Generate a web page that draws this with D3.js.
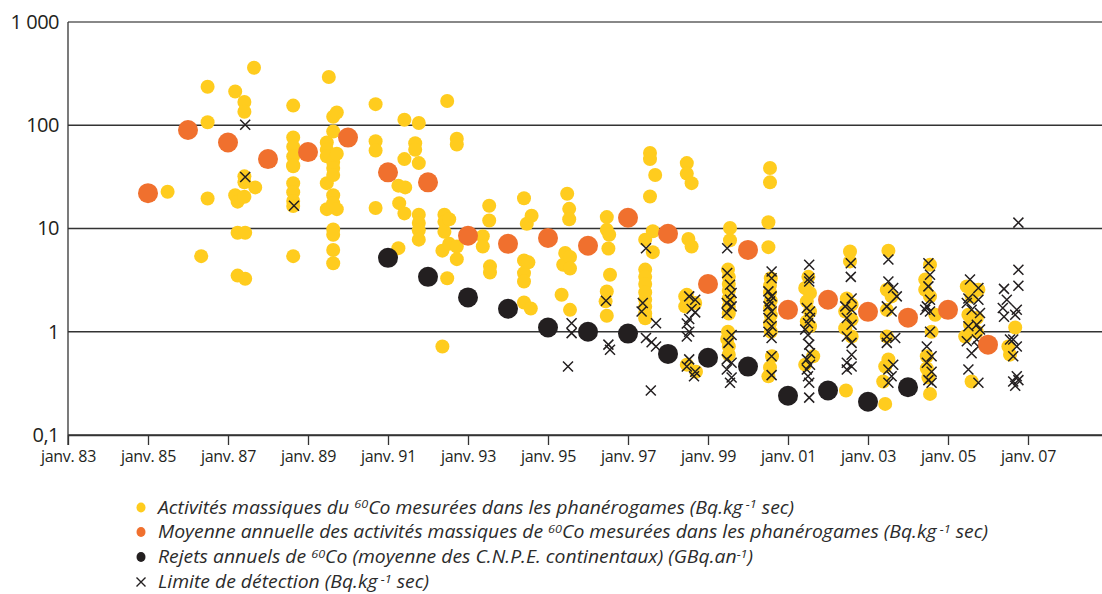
<!DOCTYPE html>
<html><head><meta charset="utf-8">
<script src="https://cdn.jsdelivr.net/npm/d3@7"></script>
<style>
html,body{margin:0;padding:0;background:#fff;}
svg{display:block;font-family:"Open Sans",sans-serif;}
</style></head>
<body>
<svg id="chart" width="1102" height="594"></svg>
<script>
// ---- data ----
const yearTicks = [1983,1985,1987,1989,1991,1993,1995,1997,1999,2001,2003,2005,2007];
const yearTickLabels = ["janv. 83","janv. 85","janv. 87","janv. 89","janv. 91","janv. 93","janv. 95","janv. 97","janv. 99","janv. 01","janv. 03","janv. 05","janv. 07"];
const valueTicks = [0.1,1,10,100,1000];
const valueTickLabels = ["0,1","1","10","100","1 000"];

const meanYears = [1985,1986,1987,1988,1989,1990,1991,1992,1993,1994,1995,1996,1997,1998,1999,2000,2001,2002,2003,2004,2005,2006];
const meanValues = [22,90,68,47,55,76,35,28,8.5,7.1,8.1,6.8,12.7,8.9,2.9,6.2,1.63,2.04,1.56,1.37,1.63,0.75];

const releaseYears = [1991,1992,1993,1994,1995,1996,1997,1998,1999,2000,2001,2002,2003,2004];
const releaseValues = [5.2,3.4,2.15,1.67,1.1,1.0,0.96,0.61,0.56,0.46,0.24,0.27,0.21,0.29];

const measuredPoints = [
[1985.49,22.7],
[1986.49,236],[1986.49,107],[1986.49,19.5],[1986.33,5.4],
[1987.18,212],[1987.18,21],[1987.24,18.2],[1987.24,9.1],[1987.24,3.5],
[1987.41,168],[1987.41,135],[1987.41,32],[1987.41,28],[1987.41,20.3],[1987.43,9.1],[1987.43,3.26],
[1987.65,361],[1987.68,25],
[1988.63,155],[1988.63,76],[1988.63,62],[1988.63,50],[1988.63,41],[1988.63,40],[1988.63,27.5],[1988.63,22.5],[1988.63,18.5],[1988.63,16.5],[1988.63,5.4],
[1989.52,293],
[1989.47,68],[1989.47,58],[1989.47,50],[1989.47,27.5],[1989.47,15.4],
[1989.63,121],[1989.63,87],[1989.63,44],[1989.63,38.5],[1989.63,33],[1989.63,21],[1989.63,17.6],[1989.63,9.8],[1989.63,8.7],[1989.63,6.2],[1989.63,4.6],
[1989.72,133],[1989.72,53],[1989.72,15.4],
[1990.69,160],[1990.69,70],[1990.69,57],[1990.69,15.8],
[1991.26,26],[1991.26,6.45],[1991.28,17.6],
[1991.41,113],[1991.41,47],[1991.41,14],[1991.43,25],
[1991.68,67],[1991.68,58],
[1991.77,105],[1991.77,43],[1991.77,13.6],[1991.77,11.3],[1991.77,9.6],[1991.77,7.8],
[1992.36,6.1],[1992.36,0.72],
[1992.41,13.6],[1992.41,11.6],[1992.41,9.3],
[1992.48,172],[1992.48,3.3],
[1992.53,12.3],[1992.53,7.1],
[1992.72,74],[1992.72,65],[1992.72,6.7],[1992.72,5.05],
[1993.37,8.4],[1993.37,6.7],
[1993.53,16.6],[1993.53,11.95],[1993.55,4.3],[1993.55,3.75],
[1994.4,19.6],[1994.4,4.9],[1994.4,3.7],[1994.4,3.07],[1994.4,1.92],[1994.47,11.1],[1994.51,4.7],[1994.57,1.68],[1994.59,13.3],
[1995.34,2.28],[1995.38,4.45],[1995.43,5.8],[1995.48,21.7],[1995.53,15.5],[1995.53,12.3],[1995.55,5.3],[1995.55,4.1],[1995.55,1.63],
[1996.44,1.97],[1996.47,12.9],[1996.47,9.7],[1996.47,2.45],[1996.47,1.43],[1996.51,6.4],[1996.53,8.7],[1996.55,3.57],
[1997.43,7.8],[1997.43,4.0],[1997.43,3.4],[1997.43,2.9],[1997.43,2.4],[1997.43,2.04],[1997.43,1.75],[1997.43,1.5],[1997.43,1.35],
[1997.55,54],[1997.55,47],[1997.55,20.4],[1997.62,9.4],[1997.62,5.9],[1997.68,33],
[1998.43,2.2],[1998.43,1.76],[1998.47,43],[1998.47,34],[1998.47,2.28],[1998.47,1.83],[1998.47,0.48],[1998.51,7.9],[1998.59,27.5],[1998.59,6.7],[1998.68,1.9],[1998.7,0.41],
[1999.55,10.1],[1999.55,7.7],[1999.5,4.0],[1999.52,3.4],[1999.52,2.9],[1999.52,2.5],[1999.52,2.1],[1999.52,1.75],[1999.52,1.5],[1999.5,1.0],[1999.48,0.85],[1999.52,0.72],[1999.52,0.6],
[2000.55,38.6],[2000.55,28],[2000.51,11.5],[2000.51,6.6],[2000.57,3.3],[2000.55,2.8],[2000.55,2.4],[2000.57,2.0],[2000.55,1.7],[2000.57,1.45],[2000.55,1.2],[2000.57,1.0],[2000.6,0.58],[2000.55,0.45],[2000.51,0.37],
[2001.51,3.4],[2001.43,2.65],[2001.55,2.37],[2001.47,1.97],[2001.55,1.57],[2001.47,1.26],[2001.55,1.13],[2001.63,0.58],[2001.43,0.48],
[2002.45,0.27],
[2002.55,6.0],[2002.55,4.8],[2002.47,2.1],[2002.59,1.83],[2002.43,1.57],[2002.59,1.31],[2002.43,1.08],[2002.59,0.9],
[2003.51,6.1],[2003.47,2.55],[2003.59,2.2],[2003.47,1.63],[2003.47,0.9],[2003.51,0.54],[2003.43,0.46],[2003.38,0.33],[2003.43,0.2],
[2004.55,4.45],[2004.43,3.2],[2004.43,2.55],[2004.55,2.2],[2004.68,1.46],[2004.59,1.0],[2004.47,0.58],[2004.47,0.44],[2004.51,0.36],[2004.55,0.25],
[2005.47,2.75],[2005.59,2.2],[2005.76,2.55],[2005.51,1.46],[2005.72,1.36],[2005.55,1.17],[2005.43,0.9],[2005.72,1.0],[2005.59,0.33],
[2006.68,1.1],[2006.51,0.72],[2006.55,0.6]
];

const detectionLimitPoints = [
[1987.43,101],[1987.43,31.6],[1988.65,16.6],
[1995.59,1.21],[1995.59,0.97],[1995.5,0.46],
[1996.45,2.0],[1996.51,0.75],[1996.55,0.67],
[1997.45,6.45],[1997.37,1.9],[1997.34,1.57],[1997.7,1.21],[1997.45,0.87],[1997.59,0.79],[1997.7,0.72],[1997.57,0.27],
[1998.53,2.2],[1998.68,2.04],[1998.59,1.66],[1998.68,1.54],[1998.53,1.33],[1998.47,1.2],[1998.53,1.0],[1998.47,0.9],[1998.53,0.54],[1998.47,0.46],[1998.68,0.41],[1998.65,0.37],
[1999.48,6.45],[1999.48,3.7],[1999.55,2.85],[1999.59,2.37],[1999.55,2.04],[1999.47,1.9],[1999.59,1.76],[1999.47,1.52],[1999.59,0.93],[1999.51,0.78],[1999.47,0.54],[1999.59,0.5],[1999.47,0.43],[1999.59,0.36],[1999.55,0.32],
[2000.59,3.83],[2000.59,3.3],[2000.51,2.46],[2000.59,2.2],[2000.55,1.97],[2000.51,1.76],[2000.59,1.57],[2000.51,1.36],[2000.59,1.13],[2000.51,1.0],[2000.59,0.87],[2000.59,0.58],[2000.59,0.38],
[2001.53,4.45],[2001.53,3.3],[2001.53,3.07],[2001.47,1.7],[2001.55,1.57],[2001.55,1.36],[2001.5,1.21],[2001.43,1.05],[2001.5,0.93],[2001.53,0.75],[2001.55,0.62],[2001.47,0.54],[2001.55,0.48],[2001.47,0.43],[2001.5,0.37],[2001.53,0.32],[2001.53,0.23],
[2002.57,4.6],[2002.57,3.4],[2002.59,2.1],[2002.43,1.76],[2002.59,1.63],[2002.47,1.36],[2002.59,1.17],[2002.47,0.9],[2002.59,0.78],[2002.59,0.6],[2002.47,0.5],[2002.59,0.46],[2002.47,0.43],
[2003.51,5.0],[2003.51,3.07],[2003.63,2.65],[2003.72,2.2],[2003.47,1.76],[2003.59,1.57],[2003.47,0.9],[2003.68,0.87],[2003.47,0.78],[2003.63,0.48],[2003.51,0.43],[2003.59,0.37],[2003.51,0.32],
[2004.51,4.6],[2004.55,3.57],[2004.51,2.75],[2004.55,2.04],[2004.47,1.76],[2004.55,1.57],[2004.43,1.63],[2004.55,1.0],[2004.47,0.72],[2004.59,0.58],[2004.47,0.5],[2004.59,0.41],[2004.51,0.34],[2004.59,0.32],
[2005.55,3.2],[2005.76,2.65],[2005.51,2.1],[2005.47,1.9],[2005.76,2.04],[2005.59,1.63],[2005.8,1.52],[2005.72,1.17],[2005.51,1.13],[2005.8,1.05],[2005.47,0.81],[2005.72,0.84],[2005.59,0.62],[2005.76,0.72],[2005.51,0.43],[2005.76,0.32],
[2006.76,11.4],[2006.76,3.98],[2006.76,2.79],[2006.4,2.6],[2006.47,2.04],[2006.37,1.7],[2006.72,1.63],[2006.4,1.4],[2006.68,1.46],[2006.63,0.84],[2006.72,0.72],[2006.55,0.84],[2006.63,0.58],[2006.72,0.37],[2006.63,0.33],[2006.76,0.34],[2006.68,0.3]
];

const legendItems = [
  {type:"measured", parts:[["Activités massiques du ",0],["60",1],["Co mesurées dans les phanérogames (Bq.kg",0],[" -1",1],[" sec)",0]]},
  {type:"mean", parts:[["Moyenne annuelle des activités massiques de ",0],["60",1],["Co mesurées dans les phanérogames (Bq.kg",0],[" -1",1],[" sec)",0]]},
  {type:"release", parts:[["Rejets annuels de ",0],["60",1],["Co (moyenne des C.N.P.E. continentaux) (GBq.an",0],["-1",1],[")",0]]},
  {type:"limit", parts:[["Limite de détection (Bq.kg",0],[" -1",1],[" sec)",0]]}
];

// ---- styles ----
const YELLOW = "#FFCC1E", ORANGE = "#F0702E", BLACK = "#231F20";

const svg = d3.select("#chart");
const x = d3.scaleLinear().domain([1983, 2008.85]).range([68, 1102]);
const y = d3.scaleLog().domain([0.1, 1000]).range([435, 22]);

// gridlines
svg.append("g").selectAll("line").data(valueTicks).join("line")
  .attr("x1", 68).attr("x2", 1102)
  .attr("y1", d => y(d)).attr("y2", d => y(d))
  .attr("stroke", d => d === 1000 ? "#888" : "#333")
  .attr("stroke-width", d => d === 1000 ? 1.8 : 1.3);

// y axis
const yAxis = d3.axisLeft(y).tickValues(valueTicks)
  .tickFormat((d,i) => valueTickLabels[i]).tickSize(0).tickPadding(9);
const gy = svg.append("g").attr("transform","translate(68,0)").call(yAxis);
gy.select(".domain").remove();
gy.selectAll("text").attr("font-size", 20).attr("fill", "#231F20")
  .attr("font-family", "'Open Sans', sans-serif").attr("letter-spacing", "-0.5");
svg.append("line").attr("x1",68).attr("x2",68).attr("y1",22).attr("y2",445)
  .attr("stroke","#333").attr("stroke-width",1.3);

// x axis
const xAxis = d3.axisBottom(x).tickValues(yearTicks)
  .tickFormat((d,i) => yearTickLabels[i]).tickSize(10).tickSizeOuter(0).tickPadding(6);
const gx = svg.append("g").attr("transform","translate(0,435)").call(xAxis);
gx.select(".domain").attr("stroke","#333").attr("stroke-width",1.3);
gx.selectAll(".tick line").attr("stroke","#333").attr("stroke-width",1.3);
gx.selectAll("text").attr("font-size", 16).attr("fill", "#231F20")
  .attr("font-family", "'Open Sans', sans-serif").attr("letter-spacing", "-0.3");

// marks
const xPath = s => `M${-s},${-s}L${s},${s}M${-s},${s}L${s},${-s}`;

svg.append("g").selectAll("circle").data(measuredPoints).join("circle")
  .attr("cx", d => x(d[0])).attr("cy", d => y(d[1])).attr("r", 7).attr("fill", YELLOW);

svg.append("g").selectAll("path").data(detectionLimitPoints).join("path")
  .attr("transform", d => `translate(${x(d[0])},${y(d[1])})`)
  .attr("d", xPath(5)).attr("stroke", BLACK).attr("stroke-width", 1.5).attr("fill","none");

svg.append("g").selectAll("circle").data(meanYears).join("circle")
  .attr("cx", d => x(d)).attr("cy", (d,i) => y(meanValues[i])).attr("r", 10).attr("fill", ORANGE);

svg.append("g").selectAll("circle").data(releaseYears).join("circle")
  .attr("cx", d => x(d)).attr("cy", (d,i) => y(releaseValues[i])).attr("r", 10).attr("fill", BLACK);

// legend
const lg = svg.append("g");
const rowY = [507.5, 532, 557, 582];
legendItems.forEach((item, i) => {
  const cy = rowY[i];
  if (item.type === "limit") {
    lg.append("path").attr("transform", `translate(141,${cy})`).attr("d", xPath(4.5))
      .attr("stroke", BLACK).attr("stroke-width", 1.4).attr("fill","none");
  } else {
    lg.append("ellipse").attr("cx", 141).attr("cy", cy).attr("rx", 4.5).attr("ry", 5)
      .attr("fill", item.type === "measured" ? YELLOW : item.type === "mean" ? ORANGE : BLACK);
  }
  const t = lg.append("text").attr("x", 0).attr("y", 0)
    .attr("transform", `translate(158,${cy + 6.3}) scale(1.1,1)`)
    .attr("font-size", 17.6).attr("font-style","italic").attr("fill", "#2b2b2b")
    .attr("font-family", "'Open Sans', sans-serif");
  item.parts.forEach(([s, sup], j) => {
    const ts = t.append("tspan").text(s);
    const prevSup = j > 0 && item.parts[j-1][1];
    if (sup) ts.attr("font-size", 11.5).attr("dy", -5.5);
    else ts.attr("dy", prevSup ? 5.5 : 0);
  });
});
</script>
</body></html>
